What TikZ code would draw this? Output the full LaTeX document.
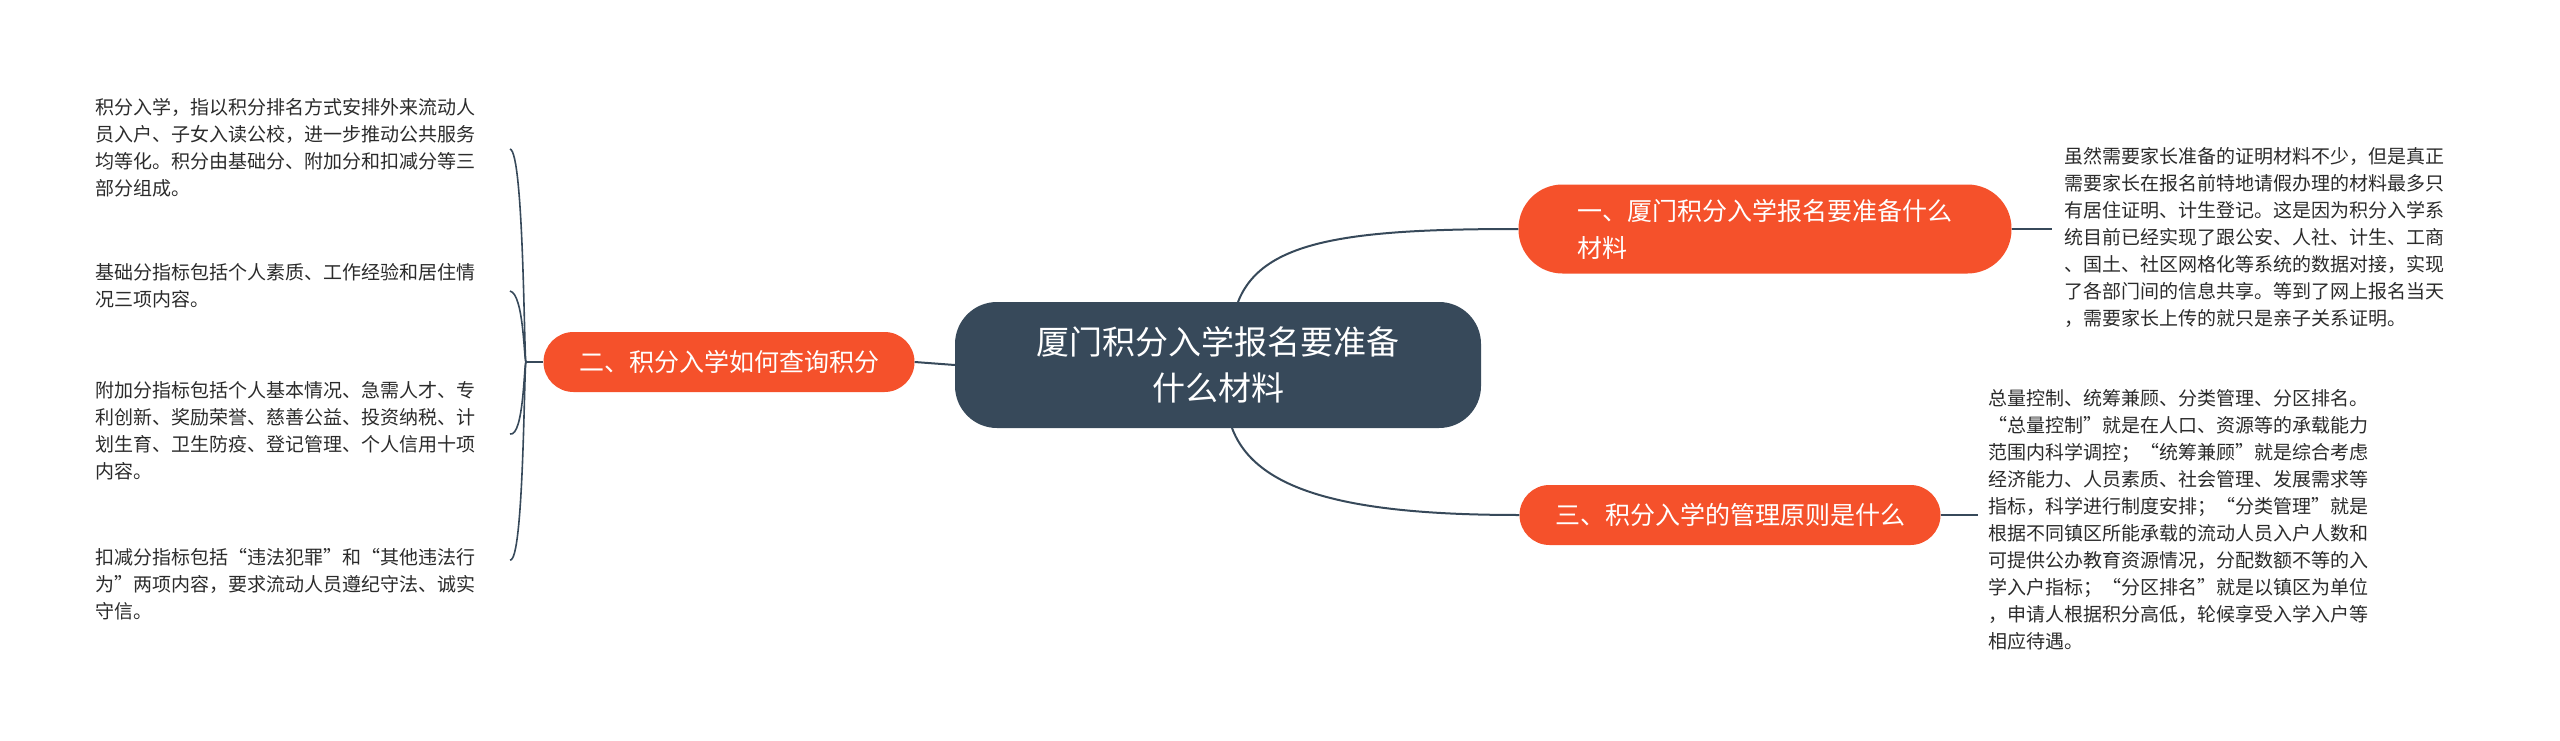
\documentclass[tikz,border=0pt]{standalone}
\usepackage{fontspec}
\setmainfont{Noto Sans CJK SC}
\definecolor{rootblue}{HTML}{37495A}
\definecolor{branchred}{HTML}{F5512B}
\definecolor{leafgray}{HTML}{2B2B2B}
\tikzset{
	root/.style={fill=rootblue, text=white, rounded corners=42pt, minimum width=526pt, minimum height=126pt, align=center, font=\fontsize{33}{46}\selectfont},
	branch/.style={fill=branchred, text=white, rounded corners=30pt, minimum height=60pt, inner xsep=30pt, font=\fontsize{25}{37}\selectfont},
	leaf/.style={text=leafgray, anchor=north west, align=left, inner sep=0pt, font=\fontsize{19}{27}\selectfont},
	link/.style={draw=rootblue, line width=2pt},
}
\begin{document}
\begin{tikzpicture}[x=1pt, y=-1pt]
		\useasboundingbox (0,0) rectangle (2560,741);

		\node[root] (main) at (1218,365) {厦门积分入学报名要准备\\什么材料};

		\node[branch, minimum width=493pt, minimum height=89pt, align=left, rounded corners=44pt] (one) at (1765,229) {一、厦门积分入学报名要准备什么\\材料};
		\node[branch, minimum width=421pt] (three) at (1730,515) {三、积分入学的管理原则是什么};
		\node[branch, minimum width=371pt] (two) at (729,362) {二、积分入学如何查询积分};

		\node[leaf] (oneleaf) at (2064,147) {虽然需要家长准备的证明材料不少，但是真正\\需要家长在报名前特地请假办理的材料最多只\\有居住证明、计生登记。这是因为积分入学系\\统目前已经实现了跟公安、人社、计生、工商\\、国土、社区网格化等系统的数据对接，实现\\了各部门间的信息共享。等到了网上报名当天\\，需要家长上传的就只是亲子关系证明。};
		\node[leaf] (threeleaf) at (1988,389) {总量控制、统筹兼顾、分类管理、分区排名。\\“总量控制”就是在人口、资源等的承载能力\\范围内科学调控；“统筹兼顾”就是综合考虑\\经济能力、人员素质、社会管理、发展需求等\\指标，科学进行制度安排；“分类管理”就是\\根据不同镇区所能承载的流动人员入户人数和\\可提供公办教育资源情况，分配数额不等的入\\学入户指标；“分区排名”就是以镇区为单位\\，申请人根据积分高低，轮候享受入学入户等\\相应待遇。};

		\node[leaf] (twoa) at (95,98) {积分入学，指以积分排名方式安排外来流动人\\员入户、子女入读公校，进一步推动公共服务\\均等化。积分由基础分、附加分和扣减分等三\\部分组成。};
		\node[leaf] (twob) at (95,263) {基础分指标包括个人素质、工作经验和居住情\\况三项内容。};
		\node[leaf] (twoc) at (95,381) {附加分指标包括个人基本情况、急需人才、专\\利创新、奖励荣誉、慈善公益、投资纳税、计\\划生育、卫生防疫、登记管理、个人信用十项\\内容。};
		\node[leaf] (twod) at (95,548) {扣减分指标包括“违法犯罪”和“其他违法行\\为”两项内容，要求流动人员遵纪守法、诚实\\守信。};

		% links from the root
		\draw[link] (1238,302) .. controls (1262,240) and (1350,229) .. (one.west);
		\draw[link] (1232,428) .. controls (1256,492) and (1350,515) .. (three.west);
		\draw[link] (main.west) -- (two.east);

		% right side leaves
		\coordinate (oneend) at (2052,229);
		\coordinate (threeend) at (1978,515);
		\draw[link] (one.east) -- (oneend);
		\draw[link] (three.east) -- (threeend);

		% left side bracket
		\coordinate (fork) at (526,362);
		\draw[link] (two.west) -- (fork);
		\foreach \y in {152,294,437,563} {
			\draw[link, line width=1.6pt] (fork) .. controls (524,362) and (524,\y) .. (510,{\y-3});
		}
	\end{tikzpicture}
\end{document}
